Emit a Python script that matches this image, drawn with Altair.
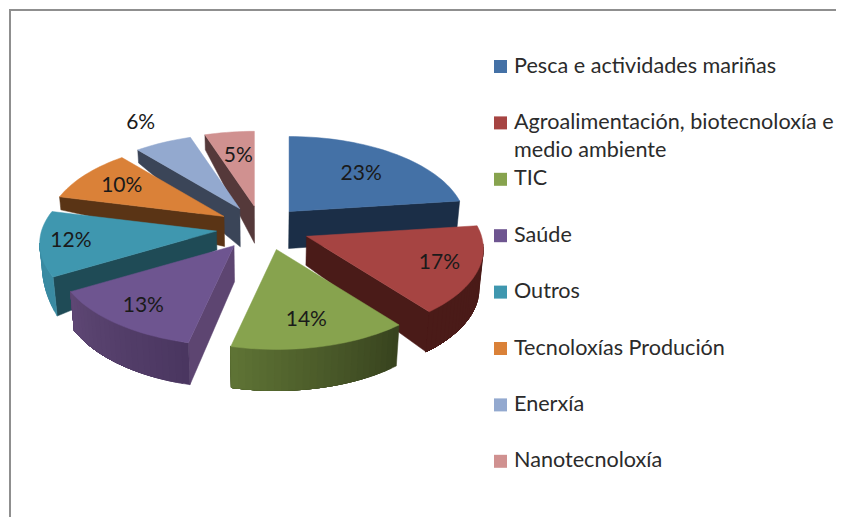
import math
import altair as alt
import pandas as pd

# ---- chart values ----
categories = ["Pesca e actividades mariñas", "Agroalimentación, biotecnoloxía e|medio ambiente", "TIC", "Saúde",
              "Outros", "Tecnoloxías Produción", "Enerxía", "Nanotecnoloxía"]
shares = [23.0, 16.3, 14.3, 13.1, 12.1, 10.0, 6.0, 5.2]
labels = ["23%", "17%", "14%", "13%", "12%", "10%", "6%", "5%"]
top_colors = ["#4471a6", "#a64442", "#87a34e", "#6e5590", "#3f97af", "#da8138", "#93a9cf", "#d09190"]

# ---- 3D pie projection settings ----
CX, CY = 263, 228      # pie centre
EX, EY = 47, 22        # explosion
NUDGE = [-5, 0, 3, -1, 0, 1, 0, -1]   # small sideways corrections per slice
RX, RY, K = 175, 85.7, 0.143   # radii and perspective
LABEL_F = [0.58, 0.82, 0.85, 0.88, 0.84, 0.68, 1.15, 0.60]
RADIAL = {0: ("end", 37, 36, "#1b2e47"), 1: ("end", 29, 40, "#4a1b18"),
          3: ("start", 36, 42, "#5d4571"), 4: ("start", 19, 39, "#1f4b56"),
          5: ("start", 30, 13, "#5a3415"), 6: ("start", 38, 13, "#3b4558"),
          7: ("start", 37, 15, "#55393a")}
RIM = {1: (95, None, 40, 40, "#4a1b18", "#4a1b18"),
       2: (None, None, 41, 41, "#37421e", "#5f7435"),
       3: (None, None, 42, 39, "#4a3660", "#5e4774"),
       4: (None, 262, 39, 23, "#3a8ba2", "#3a8ba2")}
DRAW_ORDER = [0, 7, 6, 5, 4, 3, 1, 2]

total = sum(shares)
edges = [0.0]
for v in shares:
    edges.append(edges[-1] + v / total * 360)


def base_apex(i):
    m = math.radians((edges[i] + edges[i + 1]) / 2)
    return CX + EX * math.sin(m), CY - EY * math.cos(m)


def apex(i):
    ax, ay = base_apex(i)
    return ax + NUDGE[i], ay


def rim(i, deg):
    t = math.radians(deg)
    s = 1 / (1 + K * math.cos(t))
    ax, ay = apex(i)
    return ax + RX * math.sin(t) * s, ay - RY * math.cos(t) * s


def drop(p, d):
    return p[0] + (CX - p[0]) * 0.02 * d / 40, p[1] + d


def mix(c0, c1, f):
    a = [int(c0[j:j + 2], 16) for j in (1, 3, 5)]
    b = [int(c1[j:j + 2], 16) for j in (1, 3, 5)]
    return "#" + "".join(f"{round(x + (y - x) * f):02x}" for x, y in zip(a, b))


rows = []
poly = [0]


def add(points, color):
    pid = f"p{poly[0]:04d}"
    poly[0] += 1
    for n, (x, y) in enumerate(list(points) + [points[0]]):
        rows.append({"id": pid, "n": n, "x": x, "y": y, "color": color})


for i in DRAW_ORDER:
    d0, d1 = edges[i], edges[i + 1]
    if i in RADIAL:
        side, da, dr, col = RADIAL[i]
        a = apex(i)
        r = rim(i, d0 if side == "start" else d1)
        add([a, r, drop(r, dr), drop(a, da)], col)
    if i in RIM:
        t0, t1, w0, w1, c0, c1 = RIM[i]
        t0 = d0 if t0 is None else t0
        t1 = d1 if t1 is None else t1
        steps = max(2, int((t1 - t0) / 2))
        for q in range(steps):
            fs = [(q + j) / steps for j in range(steps - q + 1)]
            upper = [rim(i, t0 + (t1 - t0) * f) for f in fs]
            lower = [drop(rim(i, t0 + (t1 - t0) * f), w0 + (w1 - w0) * f) for f in fs]
            add(upper + lower[::-1], mix(c0, c1, (q + 0.5) / steps))
    steps = max(3, int((d1 - d0) / 2))
    add([apex(i)] + [rim(i, d0 + (d1 - d0) * q / steps) for q in range(steps + 1)], top_colors[i])

polys = pd.DataFrame(rows)

label_rows = []
for i, t in enumerate(labels):
    m = math.radians((edges[i] + edges[i + 1]) / 2)
    ax, ay = base_apex(i)
    label_rows.append({"x": ax + LABEL_F[i] * RX * math.sin(m), "y": ay - LABEL_F[i] * RY * math.cos(m), "t": t})
label_df = pd.DataFrame(label_rows)

legend_df = pd.DataFrame({
    "x": [500.5] * 8,
    "tx": [514] * 8,
    "y": [66.5 + 56.4 * i for i in range(8)],
    "name": categories,
    "color": top_colors,
})

W, H = 828, 509
xs = alt.Scale(domain=[8, 8 + W], nice=False, zero=False)
ys = alt.Scale(domain=[8 + H, 8], nice=False, zero=False)
X = lambda f: alt.X(f, type="quantitative", scale=xs, axis=None)
Y = lambda f: alt.Y(f, type="quantitative", scale=ys, axis=None)

pie = alt.Chart(polys).mark_line(strokeWidth=0.5, interpolate="linear").encode(
    x=X("x"), y=Y("y"), order=alt.Order("n:Q"), detail="id:N",
    fill=alt.Fill("color:N", scale=None), stroke=alt.Stroke("color:N", scale=None))

pct = alt.Chart(label_df).mark_text(font="Lato", fontSize=21, color="#1a1a1a", align="center", baseline="middle").encode(
    x=X("x"), y=Y("y"), text="t:N")

swatch = alt.Chart(legend_df).mark_square(size=169, opacity=1, filled=True).encode(
    x=X("x"), y=Y("y"), fill=alt.Fill("color:N", scale=None))

names = alt.Chart(legend_df).mark_text(font="Lato", fontSize=21.6, color="#2b2b2b", align="left", baseline="alphabetic",
                                       lineBreak="|", lineHeight=28, dy=6).encode(
    x=X("tx"), y=Y("y"), text="name:N")

frame_left = alt.Chart(pd.DataFrame({"a": [0]})).mark_rule(color="#8f8f8f", strokeWidth=2).encode(
    x=alt.value(2), y=alt.value(1), y2=alt.value(H))
frame_top = alt.Chart(pd.DataFrame({"a": [0]})).mark_rule(color="#8f8f8f", strokeWidth=2).encode(
    y=alt.value(2), x=alt.value(1), x2=alt.value(W))

chart = alt.layer(frame_left, frame_top, pie, pct, swatch, names).properties(
    width=W, height=H, padding=0, autosize=alt.AutoSizeParams(type="none"), background="white"
).configure_view(stroke=None)

chart.save("out.html", embed_options={"renderer": "svg", "actions": False})
